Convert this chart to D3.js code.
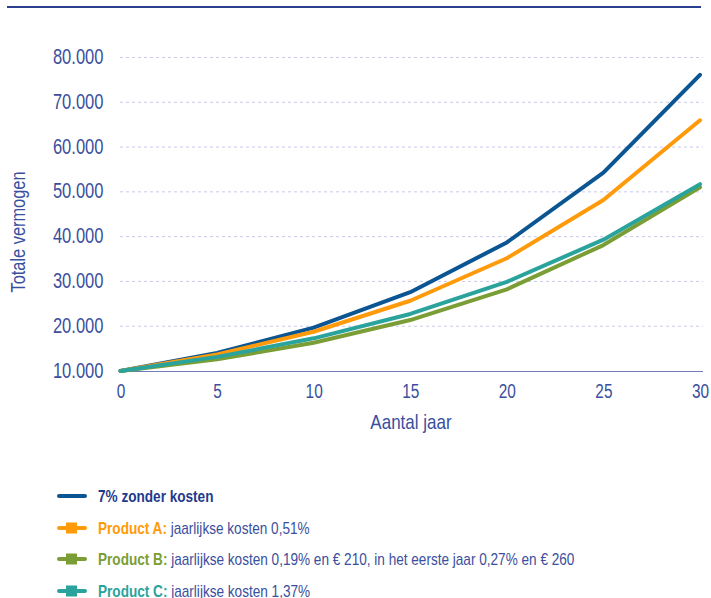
<!DOCTYPE html>
<html><head><meta charset="utf-8">
<script src="https://cdn.jsdelivr.net/npm/d3@7"></script>
<style>
body{margin:0;background:#fff;}
svg text{font-family:"Liberation Sans",Arial,sans-serif;}
</style></head><body>
<svg id="c" width="711" height="598"></svg>
<script>
const years = [0, 5, 10, 15, 20, 25, 30];
const noCosts = [10000, 14026, 19672, 27590, 38697, 54274, 76123];
const productA = [10000, 13696, 18758, 25690, 35184, 48187, 65990];
const productB = [10000, 12610, 16320, 21380, 28240, 38120, 51000];
const productC = [10000, 13150, 17293, 22741, 29906, 39330, 51714];
const yTicks = [10000, 20000, 30000, 40000, 50000, 60000, 70000, 80000];
const xTicks = [0, 5, 10, 15, 20, 25, 30];
const seriesNames = ["7% zonder kosten", "Product A:", "Product B:", "Product C:"];
const seriesNotes = ["", " jaarlijkse kosten 0,51%", " jaarlijkse kosten 0,19% en € 210, in het eerste jaar 0,27% en € 260", " jaarlijkse kosten 1,37%"];
const colors = ["#0a5592", "#ff9a0a", "#7a9e35", "#2aa39c"];
const labelColors = ["#1e3a8c", "#ff9a0a", "#7a9e35", "#2aa39c"];
const textColor = "#3a4f9d";
const K = 0.77; // horizontal condensation to mimic a condensed typeface

const series = [noCosts, productA, productB, productC];
const svg = d3.select("#c");

// top rule
svg.append("line").attr("x1",7).attr("x2",701).attr("y1",7).attr("y2",7)
  .attr("stroke","#2b3f8f").attr("stroke-width",2);

const x = d3.scaleLinear().domain([0,30]).range([120.5,700]);
const y = d3.scaleLinear().domain([10000,80000]).range([371,57.5]);

// gridlines
svg.append("g").selectAll("line").data(yTicks.slice(1)).join("line")
  .attr("x1",120).attr("x2",703).attr("y1",d=>y(d)).attr("y2",d=>y(d))
  .attr("stroke","#c9c9ea").attr("stroke-width",1).attr("stroke-dasharray","3,3");

// y axis labels
const fmt = d => d3.format(",")(d).replace(/,/g,".");
const yAxis = svg.append("g").attr("transform","translate(103.5,0)")
  .call(d3.axisLeft(y).tickValues(yTicks).tickSize(0).tickPadding(0).tickFormat(fmt));
yAxis.select(".domain").remove();
yAxis.selectAll("text").attr("fill",textColor).style("font-size","21.5px")
  .attr("x",0).attr("dy",null).attr("y",6).attr("transform",`scale(${K},1)`);

// x axis
const xAxis = svg.append("g").attr("transform",`translate(0,${y(10000)})`)
  .call(d3.axisBottom(x).tickValues(xTicks).tickSize(0));
xAxis.select(".domain").attr("stroke","#6f7cb8").attr("stroke-width",1.2).attr("d","M120,0.5H703");
xAxis.selectAll("text").attr("fill",textColor).style("font-size","20px")
  .attr("y",27).attr("dy",null).attr("transform",`scale(${K},1)`);

// axis titles
svg.append("text").attr("transform",`translate(25,232) rotate(-90) scale(0.78,1)`).attr("text-anchor","middle")
  .attr("fill",textColor).style("font-size","21px").text("Totale vermogen");
svg.append("text").attr("transform",`translate(411,429) scale(0.81,1)`).attr("text-anchor","middle")
  .attr("fill",textColor).style("font-size","21px").text("Aantal jaar");

// lines
const line = d3.line().x((d,i)=>x(years[i])).y(d=>y(d));
svg.append("g").selectAll("path").data(series).join("path")
  .attr("d",d=>line(d)).attr("fill","none").attr("stroke",(d,i)=>colors[i])
  .attr("stroke-width",4).attr("stroke-linejoin","round").attr("stroke-linecap","round");

// legend
const legY = [496, 528, 559, 591];
const leg = svg.append("g").selectAll("g").data(seriesNames).join("g")
  .attr("transform",(d,i)=>`translate(0,${legY[i]})`);
leg.append("line").attr("x1",59).attr("x2",85).attr("y1",0).attr("y2",0)
  .attr("stroke",(d,i)=>colors[i]).attr("stroke-width",4).attr("stroke-linecap","round");
leg.filter((d,i)=>i>0).append("rect").attr("x",66).attr("y",-5.5).attr("width",11).attr("height",11)
  .attr("fill",(d,i)=>colors[i+1]);
const lt = leg.append("text").attr("transform","translate(98,6) scale(0.85,1)").style("font-size","16px");
lt.append("tspan").attr("font-weight","bold").attr("fill",(d,i)=>labelColors[i]).text(d=>d);
lt.append("tspan").attr("fill",textColor).text((d,i)=>seriesNotes[i]);
</script>
</body></html>
